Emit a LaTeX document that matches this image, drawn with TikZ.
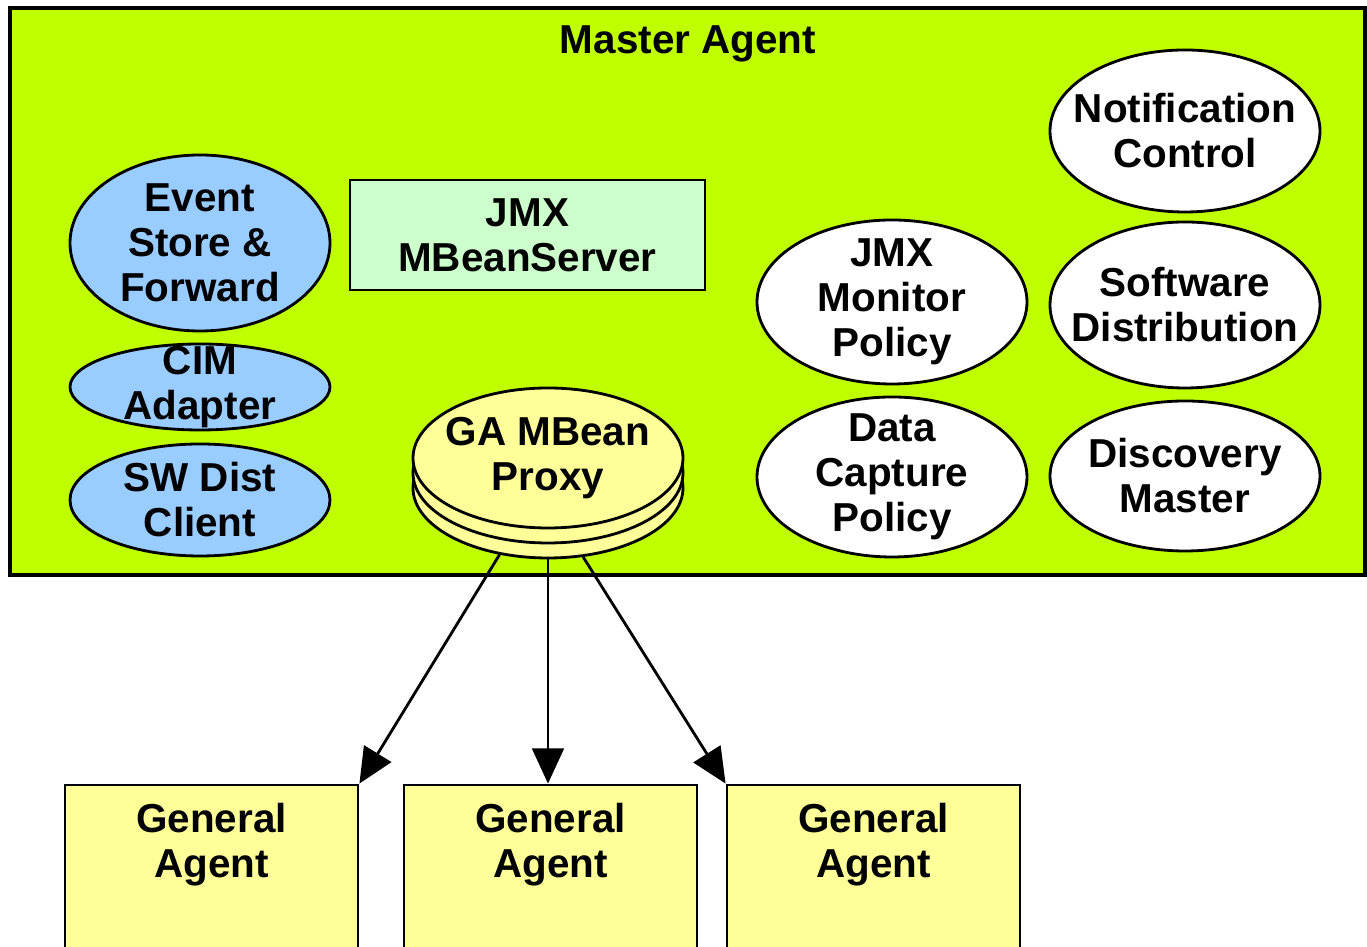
\documentclass[tikz,border=0pt]{standalone}
\usepackage{fontspec}
\setmainfont{Liberation Sans}
\usetikzlibrary{shapes.geometric,arrows.meta}
\definecolor{agentgreen}{HTML}{BFFF00}
\definecolor{ellblue}{HTML}{99CCFF}
\definecolor{srvgreen}{HTML}{CCFFCC}
\definecolor{gayellow}{HTML}{FFFF99}

\begin{document}
\begin{tikzpicture}[
  every node/.style={font=\fontsize{11.5}{12.8}\selectfont\bfseries, align=center},
  ell/.style={ellipse, draw, line width=0.8pt, inner sep=-0.5cm, minimum width=2.7cm},
  blueell/.style={ell, fill=ellblue, minimum width=2.6cm},
  whiteell/.style={ell, fill=white},
  proxyell/.style={ell, fill=gayellow, minimum height=1.4cm},
  gabox/.style={draw, line width=0.8pt, fill=gayellow, minimum width=2.93cm, minimum height=1.75cm},
  arr/.style={line width=0.8pt, -{Triangle[length=10pt,width=9pt]}}
]
\useasboundingbox (0,0) rectangle (13.67,9.47);

\node[draw, line width=0.9pt, fill=agentgreen, minimum width=13.55cm, minimum height=5.67cm] (master) at (6.875,6.555) {};
\node (title) at (6.88,9.03) {Master Agent};

\node[blueell, minimum height=1.76cm] (esf) at (2.00,7.04) {Event\\Store \&\\Forward};
\node[blueell, minimum height=0.86cm] (cim) at (2.00,5.60) {CIM\\Adapter};
\node[blueell, minimum height=1.12cm] (swdc) at (2.00,4.47) {SW Dist\\Client};

\node[draw, line width=0.8pt, fill=srvgreen, minimum width=3.55cm, minimum height=1.10cm] (mbs) at (5.275,7.12) {JMX\\MBeanServer};

\node[proxyell] (proxyb) at (5.48,4.59) {};
\node[proxyell] (proxym) at (5.48,4.74) {};
\node[proxyell] (proxy) at (5.48,4.89) {GA MBean\\Proxy};

\node[whiteell, minimum height=1.64cm] (jmp) at (8.92,6.45) {JMX\\Monitor\\Policy};
\node[whiteell, minimum height=1.60cm] (dcp) at (8.92,4.70) {Data\\Capture\\Policy};
\node[whiteell, minimum height=1.62cm] (nc) at (11.85,8.16) {Notification\\Control};
\node[whiteell, minimum height=1.66cm] (sd) at (11.85,6.42) {Software\\Distribution};
\node[whiteell, minimum height=1.50cm] (dm) at (11.85,4.71) {Discovery\\Master};

\node[gabox] (ga1) at (2.115,0.745) {};
\node (ga1t) at ([yshift=-0.61cm]ga1.north) {General\\Agent};
\node[gabox] (ga2) at (5.505,0.745) {};
\node (ga2t) at ([yshift=-0.61cm]ga2.north) {General\\Agent};
\node[gabox] (ga3) at (8.735,0.745) {};
\node (ga3t) at ([yshift=-0.61cm]ga3.north) {General\\Agent};

\draw[arr] (proxyb.234) -- (ga1.north east);
\draw[arr] (proxyb.south) -- (proxyb.south |- ga2.north);
\draw[arr] (proxyb.297) -- (ga3.north west);
\end{tikzpicture}
\end{document}
